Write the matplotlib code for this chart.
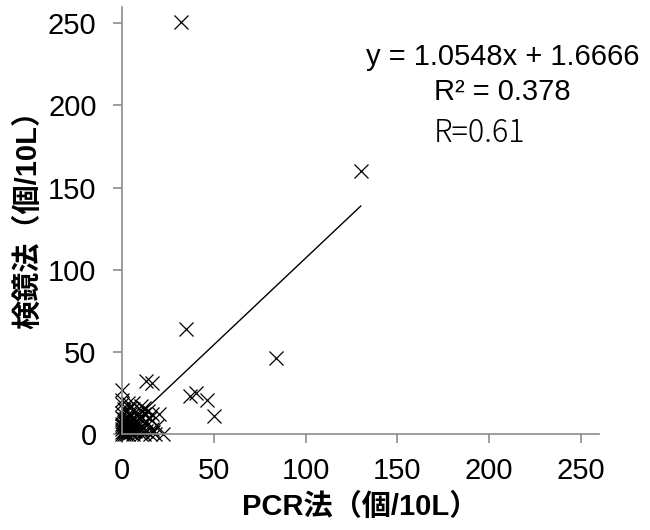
import matplotlib
matplotlib.use("Agg")
import matplotlib.pyplot as plt
import numpy as np

plt.rcParams['font.family'] = ['Liberation Sans', 'DejaVu Sans']

# PCR vs microscope counts (per 10L)
pcr = [32, 130, 35, 84, 13, 16, 0, 37, 40, 46, 50, 20, 22,
       0, 1, 2, 0, 1, 2, 3, 0, 4, 2, 3, 5, 1, 6, 0, 5, 7, 2, 8, 4, 6, 9, 1,
       10, 3, 0, 10, 7, 8, 11, 5, 12, 0, 13, 2, 9, 10, 14, 6, 15, 16, 4, 12,
       17, 13, 8, 18, 0, 11, 3, 0, 6, 14, 15, 10, 19, 1, 12, 16, 4,
       1, 2, 3, 1, 0, 2, 4, 3, 5, 6, 7, 1, 2, 3]
kenkyo = [251, 160, 64, 46, 32, 31, 27, 23, 25, 21, 11, 12, 0,
          0, 0, 0, 1, 2, 1, 0, 3, 2, 4, 3, 1, 5, 0, 6, 5, 2, 7, 4, 8, 6, 1, 9,
          3, 10, 10, 0, 8, 7, 5, 11, 0, 13, 2, 14, 10, 9, 6, 15, 0, 3, 16, 12,
          1, 8, 13, 0, 18, 14, 19, 21, 19, 14, 10, 17, 5, 15, 16, 12, 12,
          1, 3, 2, 4, 5, 6, 1, 5, 3, 2, 4, 7, 9, 6]

slope = 1.0548
intercept = 1.6666
eq_text = "y = 1.0548x + 1.6666"
r2_text = "R² = 0.378"
r_text = "R=0.61"

fig = plt.figure(figsize=(6.5, 5.3), dpi=100)
ax = fig.add_axes([0.188, 0.181, 0.734, 0.806])

ax.plot(pcr, kenkyo, linestyle='none', marker='x', markersize=10,
        markeredgewidth=0.9, color='black', clip_on=False)

xfit = np.array([min(pcr), max(pcr)])
ax.plot(xfit, slope * xfit + intercept, color='black', linewidth=1)

ax.set_xlim(0, 260)
ax.set_ylim(0, 260)
ax.set_xticks([0, 50, 100, 150, 200, 250])
ax.set_yticks([0, 50, 100, 150, 200, 250])

for side in ['top', 'right']:
    ax.spines[side].set_visible(False)
for side in ['left', 'bottom']:
    ax.spines[side].set_color('#8c8c8c')
    ax.spines[side].set_linewidth(1.2)

ax.tick_params(axis='both', direction='out', length=6.5, width=1.2,
               color='#8c8c8c', labelsize=21)
ax.tick_params(axis='y', pad=12)
ax.tick_params(axis='x', pad=10)

lab_font = ['Liberation Sans', 'Noto Sans CJK JP', 'DejaVu Sans']
fig.text(0.554, 0.044, "PCR法（個/10L）", family=lab_font, fontweight='bold',
         fontsize=21, ha='center', va='center')
fig.text(0.043, 0.60, "検鏡法（個/10L）", family=lab_font, fontweight='bold',
         fontsize=21, ha='center', va='center', rotation=90)

fig.text(0.774, 0.892, eq_text, fontsize=21, ha='center', va='center')
fig.text(0.773, 0.826, r2_text, fontsize=21, ha='center', va='center')
fig.text(0.738, 0.749, r_text, fontsize=22, ha='center', va='center',
         color='black', family=['Noto Sans CJK JP', 'DejaVu Sans'],
         fontweight='light')

fig.savefig("out.png", dpi=100)
